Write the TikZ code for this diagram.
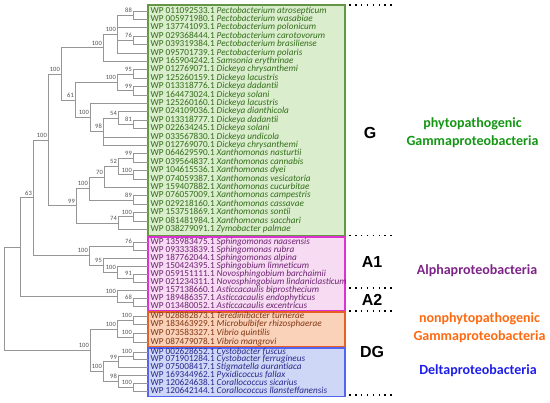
\documentclass[tikz,border=0pt]{standalone}
\usepackage{fontspec}
\setmainfont{Carlito}
\newfontfamily\lsans{Liberation Sans}
\definecolor{gfill}{RGB}{218,237,205}
\definecolor{gline}{RGB}{100,150,70}
\definecolor{gtext}{RGB}{50,110,25}
\definecolor{pfill}{RGB}{246,219,242}
\definecolor{pline}{RGB}{220,50,210}
\definecolor{ptext}{RGB}{110,35,115}
\definecolor{ofill}{RGB}{250,210,185}
\definecolor{oline}{RGB}{230,95,35}
\definecolor{otext}{RGB}{130,55,20}
\definecolor{bfill}{RGB}{207,215,247}
\definecolor{bline}{RGB}{85,100,240}
\definecolor{btext}{RGB}{40,40,140}
\definecolor{treec}{RGB}{150,150,150}
\definecolor{bsc}{RGB}{80,80,80}
\definecolor{labg}{RGB}{20,150,20}
\definecolor{laba}{RGB}{125,35,135}
\definecolor{labo}{RGB}{255,105,15}
\definecolor{labb}{RGB}{30,30,235}
\begin{document}
\begin{tikzpicture}[x=1pt,y=-1pt,
 tree/.style={draw=treec,line width=0.6pt},
 bs/.style={anchor=south east,inner sep=0pt,xshift=-1pt,yshift=2.5pt,font=\fontsize{6.5}{7}\selectfont,text=bsc},
 leaf/.style={anchor=west,inner sep=0pt,text height=6.2pt,text depth=1.8pt,font=\fontsize{9.2}{9}\selectfont},
 grp/.style={font=\lsans\bfseries\fontsize{16}{18}\selectfont,inner sep=0pt},
 cls/.style={font=\bfseries\fontsize{14}{18}\selectfont,align=center,inner sep=0pt},
 sep/.style={line width=1.6pt,dash pattern=on 1.6pt off 4.3pt}
]
\useasboundingbox (0,0) rectangle (550,403);
% boxes
\draw[fill=gfill,draw=gline,line width=1.6pt] (148,5) rectangle (345,235.5);
\draw[fill=pfill,draw=pline,line width=1.6pt] (148,236.8) rectangle (345,310.4);
\draw[fill=ofill,draw=oline,line width=1.6pt] (148,311.8) rectangle (345,346.6);
\draw[fill=bfill,draw=bline,line width=1.4pt] (148,347.9) rectangle (345,396.5);
% leaves
\foreach \i/\y/\acc/\sp in {
1/11/011092533.1/Pectobacterium atrosepticum,
2/19.4/005971980.1/Pectobacterium wasabiae,
3/27.8/137741093.1/Pectobacterium polonicum,
4/36.2/029368444.1/Pectobacterium carotovorum,
5/44.6/039319384.1/Pectobacterium brasiliense,
6/53/095701739.1/Pectobacterium polaris,
7/61.4/165904242.1/Samsonia erythrinae,
8/69.8/012769071.1/Dickeya chrysanthemi,
9/78.2/125260159.1/Dickeya lacustris,
10/86.6/013318776.1/Dickeya dadantii,
11/95/164473024.1/Dickeya solani,
12/103.4/125260160.1/Dickeya lacustris,
13/111.8/024109036.1/Dickeya dianthicola,
14/120.2/013318777.1/Dickeya dadantii,
15/128.6/022634245.1/Dickeya solani,
16/137/033567830.1/Dickeya undicola,
17/145.4/012769070.1/Dickeya chrysanthemi,
18/153.8/064629590.1/Xanthomonas nasturtii,
19/162.2/039564837.1/Xanthomonas cannabis,
20/170.6/104615536.1/Xanthomonas dyei,
21/179/074059387.1/Xanthomonas vesicatoria,
22/187.4/159407882.1/Xanthomonas cucurbitae,
23/195.8/076057009.1/Xanthomonas campestris,
24/204.2/029218160.1/Xanthomonas cassavae,
25/212.6/153751869.1/Xanthomonas sontii,
26/221/081481984.1/Xanthomonas sacchari,
27/229.4/038279091.1/Zymobacter palmae}{
 \coordinate (t\i) at (148,\y);
 \node[leaf,text=gtext] (L\i) at (150.5,\y) {WP \acc\ \textit{\sp}};
}
\foreach \i/\y/\acc/\sp in {
28/242/135983475.1/Sphingomonas naasensis,
29/250.1/093333839.1/Sphingomonas rubra,
30/258.2/187762044.1/Sphingomonas alpina,
31/266.3/150424395.1/Sphingobium limneticum,
32/274.4/059151111.1/Novosphingobium barchaimii,
33/282.5/021234311.1/Novosphingobium lindaniclasticum,
34/290.6/157138660.1/Asticcacaulis biprosthecium,
35/298.7/189486357.1/Asticcacaulis endophyticus,
36/306.8/013480052.1/Asticcacaulis excentricus}{
 \coordinate (t\i) at (148,\y);
 \node[leaf,text=ptext] (L\i) at (150.5,\y) {WP \acc\ \textit{\sp}};
}
\foreach \i/\y/\acc/\sp in {
37/316/028882873.1/Teredinibacter turnerae,
38/324.67/183463929.1/Microbulbifer rhizosphaerae,
39/333.33/073583327.1/Vibrio quintilis,
40/342/087479078.1/Vibrio mangrovi}{
 \coordinate (t\i) at (148,\y);
 \node[leaf,text=otext] (L\i) at (150.5,\y) {WP \acc\ \textit{\sp}};
}
\foreach \i/\y/\acc/\sp in {
41/352/002628652.1/Cystobacter fuscus,
42/359.8/071901284.1/Cystobacter ferrugineus,
43/367.6/075008417.1/Stigmatella aurantiaca,
44/375.4/169344962.1/Pyxidicoccus fallax,
45/383.2/120624638.1/Corallococcus sicarius,
46/391/120642144.1/Corallococcus llansteffanensis}{
 \coordinate (t\i) at (148,\y);
 \node[leaf,text=btext] (L\i) at (150.5,\y) {WP \acc\ \textit{\sp}};
}
% internal nodes
\coordinate (n1) at (133,15.2);
\coordinate (n2) at (133,40.4);
\coordinate (n3) at (117,34.1);
\coordinate (n4) at (103,47.75);
\coordinate (n5) at (133,74);
\coordinate (n6) at (133,90.8);
\coordinate (n7) at (117,82.4);
\coordinate (n8) at (133,124.4);
\coordinate (n9) at (118,118.1);
\coordinate (n10) at (103,131.75);
\coordinate (n11) at (90,117.575);
\coordinate (n12) at (75,99.99);
\coordinate (n13) at (61,73.87);
\coordinate (n14) at (133,158);
\coordinate (n15) at (133,174.8);
\coordinate (n16) at (118,166.4);
\coordinate (n17) at (104,176.9);
\coordinate (n18) at (133,200);
\coordinate (n19) at (89,188.45);
\coordinate (n20) at (133,216.8);
\coordinate (n21) at (118,223.1);
\coordinate (n22) at (76,205.775);
\coordinate (n23) at (48,139.82);
\coordinate (n24) at (133,246.05);
\coordinate (n25) at (133,278.45);
\coordinate (n26) at (117,272.4);
\coordinate (n27) at (103,265.3);
\coordinate (n28) at (89,255.7);
\coordinate (n29) at (33,197.76);
\coordinate (n30) at (133,302.75);
\coordinate (n31) at (117,296.7);
\coordinate (n32) at (20,247.2);
\coordinate (n33) at (133,320.33);
\coordinate (n34) at (133,337.67);
\coordinate (n35) at (117,329);
\coordinate (n36) at (133,355.9);
\coordinate (n37) at (118,361.75);
\coordinate (n38) at (133,387.1);
\coordinate (n39) at (118,381.25);
\coordinate (n40) at (103,371.5);
\coordinate (n41) at (90,350.25);
\coordinate (root) at (4,298.7);
% edges
\draw[tree] (n1) |- (t1) (n1) |- (t2)
 (n2) |- (t4) (n2) |- (t5)
 (n3) |- (n1) (n3) |- (t3) (n3) |- (n2) (n3) |- (t6)
 (n4) |- (n3) (n4) |- (t7)
 (n5) |- (t8) (n5) |- (t9)
 (n6) |- (t10) (n6) |- (t11)
 (n7) |- (n5) (n7) |- (n6)
 (n8) |- (t14) (n8) |- (t15)
 (n9) |- (t13) (n9) |- (n8)
 (n10) |- (n9) (n10) |- (t16) (n10) |- (t17)
 (n11) |- (t12) (n11) |- (n10)
 (n12) |- (n7) (n12) |- (n11)
 (n13) |- (n4) (n13) |- (n12)
 (n14) |- (t18) (n14) |- (t19)
 (n15) |- (t20) (n15) |- (t21)
 (n16) |- (n14) (n16) |- (n15)
 (n17) |- (n16) (n17) |- (t22)
 (n18) |- (t23) (n18) |- (t24)
 (n19) |- (n17) (n19) |- (n18)
 (n20) |- (t25) (n20) |- (t26)
 (n21) |- (n20) (n21) |- (t27)
 (n22) |- (n19) (n22) |- (n21)
 (n23) |- (n13) (n23) |- (n22)
 (n24) |- (t28) (n24) |- (t29)
 (n25) |- (t32) (n25) |- (t33)
 (n26) |- (t31) (n26) |- (n25)
 (n27) |- (t30) (n27) |- (n26)
 (n28) |- (n24) (n28) |- (n27)
 (n29) |- (n23) (n29) |- (n28)
 (n30) |- (t35) (n30) |- (t36)
 (n31) |- (t34) (n31) |- (n30)
 (n32) |- (n29) (n32) |- (n31)
 (n33) |- (t37) (n33) |- (t38)
 (n34) |- (t39) (n34) |- (t40)
 (n35) |- (n33) (n35) |- (n34)
 (n36) |- (t41) (n36) |- (t42)
 (n37) |- (n36) (n37) |- (t43)
 (n38) |- (t45) (n38) |- (t46)
 (n39) |- (t44) (n39) |- (n38)
 (n40) |- (n37) (n40) |- (n39)
 (n41) |- (n35) (n41) |- (n40)
 (root) |- (n32) (root) |- (n41);
% bootstrap values
\foreach \n/\v in {n1/88,n2/76,n3/100,n4/100,n5/95,n6/99,n7/100,n8/81,n9/54,n10/98,
 n11/100,n12/61,n13/100,n14/99,n15/100,n16/52,n17/70,n18/89,n19/100,n20/100,n21/74,
 n22/99,n23/100,n24/76,n25/91,n26/100,n27/95,n28/100,n29/63,n30/68,n31/100,
 n33/100,n34/100,n35/100,n36/100,n37/99,n38/100,n39/98,n40/100,n41/100}{
 \node[bs] (b\n) at (\n) {\v};
}
% separators
\foreach \k/\y in {1/5,2/235.5,3/288,4/311,5/395}{
 \coordinate (sa\k) at (349,\y);
 \coordinate (sb\k) at (393,\y);
 \draw[sep] (sa\k) -- (sb\k);
}
% group letters
\node[grp] (gG) at (370,133) {G};
\node[grp] (gA1) at (372,262) {A1};
\node[grp] (gA2) at (372,300) {A2};
\node[grp] (gDG) at (372,352) {DG};
% class labels
\node[cls,text=labg] (cG) at (472.5,133) {phytopathogenic\\Gammaproteobacteria};
\node[cls,text=laba] (cA) at (477,271) {Alphaproteobacteria};
\node[cls,text=labo] (cO) at (479.5,328) {nonphytopathogenic\\Gammaproteobacteria};
\node[cls,text=labb] (cB) at (478,370.7) {Deltaproteobacteria};
\end{tikzpicture}
\end{document}
